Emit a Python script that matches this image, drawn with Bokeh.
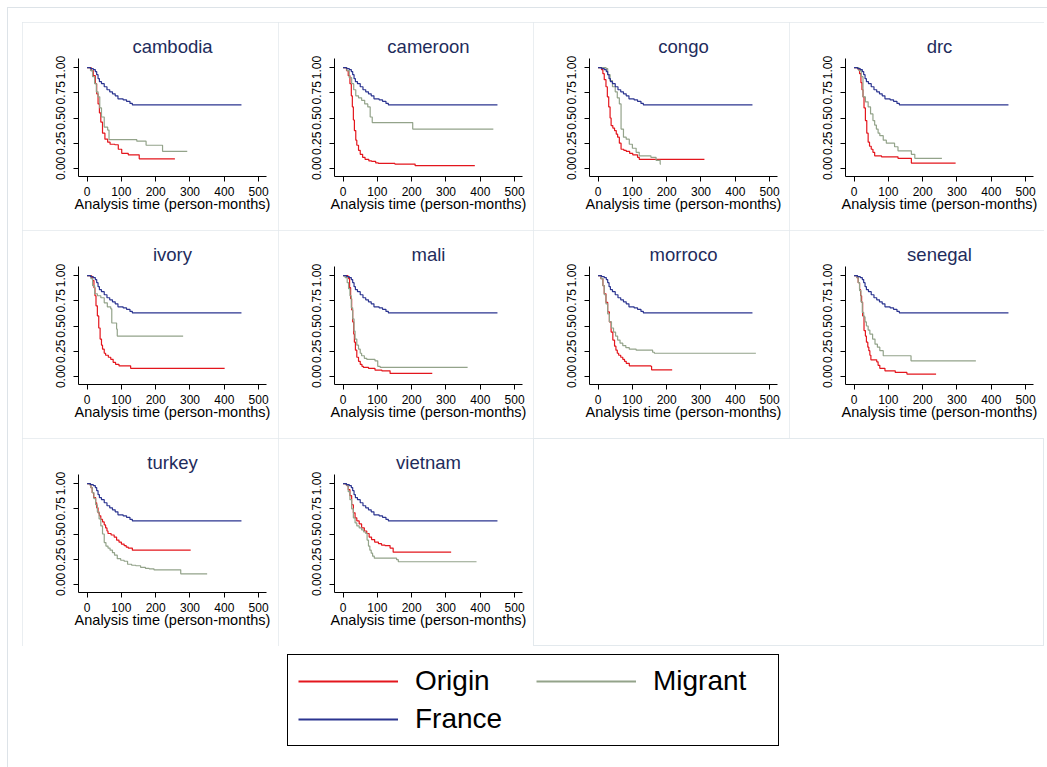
from bokeh.plotting import figure
from bokeh.layouts import row, column
from bokeh.models import (Range1d, FixedTicker, PrintfTickFormatter, Div, Legend, LegendItem)
from bokeh.embed import file_html
from bokeh.resources import INLINE

# ---------------- data (Kaplan-Meier step points) ----------------
countries = ["cambodia", "cameroon", "congo", "drc", "ivory", "mali",
             "morroco", "senegal", "turkey", "vietnam"]
series_labels = ["Origin", "Migrant", "France"]
x_ticks = [0, 100, 200, 300, 400, 500]
y_ticks = [0.0, 0.25, 0.5, 0.75, 1.0]
x_title = "Analysis time (person-months)"

france_t = [0, 10, 18, 24, 28, 32, 36, 42, 50, 58, 66, 74, 82, 90, 105, 115, 125, 132, 450]
france_s = [1.0, 0.99, 0.98, 0.96, 0.93, 0.89, 0.86, 0.84, 0.81, 0.78, 0.76, 0.74, 0.72, 0.69, 0.68, 0.665, 0.645, 0.63, 0.63]

cambodia_origin_t = [0, 12, 18, 24, 28, 32, 36, 40, 45, 52, 60, 67, 81, 91, 101, 120, 152, 256]
cambodia_origin_s = [1.0, 0.97, 0.92, 0.84, 0.74, 0.64, 0.55, 0.46, 0.35, 0.29, 0.26, 0.24, 0.235, 0.19, 0.15, 0.135, 0.095, 0.095]
cambodia_migrant_t = [0, 10, 16, 22, 27, 32, 37, 42, 50, 60, 64, 145, 172, 220, 292]
cambodia_migrant_s = [1.0, 0.97, 0.91, 0.84, 0.76, 0.71, 0.60, 0.51, 0.41, 0.38, 0.285, 0.27, 0.23, 0.17, 0.17]

cameroon_origin_t = [0, 10, 15, 20, 24, 27, 30, 33, 37, 40, 45, 50, 57, 64, 75, 83, 95, 103, 151, 210, 384]
cameroon_origin_s = [1.0, 0.97, 0.92, 0.84, 0.72, 0.61, 0.48, 0.375, 0.28, 0.23, 0.18, 0.14, 0.11, 0.09, 0.075, 0.07, 0.055, 0.05, 0.043, 0.027, 0.027]
cameroon_migrant_t = [0, 11, 18, 25, 31, 37, 45, 54, 63, 72, 79, 85, 203, 438]
cameroon_migrant_s = [1.0, 0.97, 0.90, 0.84, 0.78, 0.72, 0.70, 0.675, 0.64, 0.61, 0.51, 0.455, 0.39, 0.39]

congo_origin_t = [0, 10, 14, 18, 23, 27, 31, 35, 38, 43, 48, 53, 57, 62, 67, 75, 82, 92, 101, 115, 120, 310]
congo_origin_s = [1.0, 0.98, 0.94, 0.88, 0.81, 0.71, 0.61, 0.50, 0.425, 0.40, 0.375, 0.34, 0.31, 0.25, 0.19, 0.18, 0.17, 0.15, 0.135, 0.11, 0.09, 0.09]
congo_migrant_t = [0, 23, 28, 35, 42, 50, 56, 62, 67, 74, 82, 91, 100, 111, 120, 154, 169, 181, 183]
congo_migrant_s = [1.0, 0.99, 0.93, 0.87, 0.81, 0.76, 0.70, 0.64, 0.39, 0.31, 0.29, 0.24, 0.20, 0.16, 0.125, 0.11, 0.08, 0.043, 0.043]

drc_origin_t = [0, 12, 16, 20, 23, 26, 29, 33, 37, 41, 45, 50, 55, 60, 80, 128, 167, 296]
drc_origin_s = [1.0, 0.98, 0.94, 0.85, 0.78, 0.71, 0.60, 0.475, 0.35, 0.26, 0.22, 0.19, 0.16, 0.125, 0.115, 0.10, 0.053, 0.053]
drc_migrant_t = [0, 14, 21, 26, 33, 41, 48, 55, 60, 65, 70, 75, 85, 94, 118, 128, 167, 177, 256]
drc_migrant_s = [1.0, 0.97, 0.91, 0.71, 0.66, 0.61, 0.54, 0.475, 0.43, 0.39, 0.35, 0.325, 0.28, 0.25, 0.215, 0.175, 0.14, 0.10, 0.10]

ivory_origin_t = [0, 13, 16, 20, 23, 26, 30, 34, 38, 42, 45, 50, 54, 62, 69, 76, 83, 93, 127, 401]
ivory_origin_s = [1.0, 0.98, 0.95, 0.88, 0.80, 0.70, 0.60, 0.48, 0.37, 0.31, 0.27, 0.23, 0.21, 0.19, 0.17, 0.14, 0.12, 0.105, 0.08, 0.08]
ivory_migrant_t = [0, 11, 16, 22, 30, 40, 50, 59, 69, 72, 86, 88, 280]
ivory_migrant_s = [1.0, 0.97, 0.90, 0.82, 0.80, 0.78, 0.73, 0.69, 0.67, 0.53, 0.47, 0.40, 0.40]

mali_origin_t = [0, 14, 16, 19, 22, 25, 28, 31, 33, 36, 40, 45, 50, 55, 59, 74, 93, 113, 137, 260]
mali_origin_s = [1.0, 0.99, 0.97, 0.88, 0.77, 0.66, 0.54, 0.42, 0.34, 0.26, 0.19, 0.15, 0.12, 0.10, 0.09, 0.08, 0.063, 0.056, 0.03, 0.03]
mali_migrant_t = [0, 6, 12, 16, 20, 24, 28, 32, 35, 40, 45, 50, 54, 62, 69, 93, 101, 108, 363]
mali_migrant_s = [1.0, 0.98, 0.93, 0.87, 0.80, 0.68, 0.57, 0.45, 0.37, 0.31, 0.27, 0.23, 0.205, 0.18, 0.17, 0.155, 0.10, 0.09, 0.09]

morroco_origin_t = [0, 8, 14, 18, 23, 28, 33, 38, 43, 48, 52, 56, 60, 66, 72, 77, 82, 91, 154, 156, 216]
morroco_origin_s = [1.0, 0.97, 0.90, 0.82, 0.735, 0.64, 0.54, 0.44, 0.36, 0.30, 0.26, 0.23, 0.21, 0.19, 0.17, 0.15, 0.13, 0.105, 0.10, 0.066, 0.066]
morroco_migrant_t = [0, 8, 14, 18, 23, 28, 33, 39, 45, 51, 57, 64, 72, 81, 91, 111, 159, 164, 460]
morroco_migrant_s = [1.0, 0.97, 0.90, 0.81, 0.72, 0.62, 0.54, 0.48, 0.44, 0.40, 0.36, 0.33, 0.305, 0.285, 0.27, 0.26, 0.24, 0.23, 0.23]

senegal_origin_t = [0, 8, 12, 16, 19, 22, 25, 29, 33, 36, 40, 43, 46, 49, 66, 70, 75, 90, 120, 154, 239]
senegal_origin_s = [1.0, 0.98, 0.93, 0.86, 0.80, 0.735, 0.60, 0.455, 0.40, 0.34, 0.29, 0.255, 0.21, 0.165, 0.145, 0.11, 0.08, 0.056, 0.04, 0.023, 0.023]
senegal_migrant_t = [0, 8, 12, 16, 20, 24, 28, 32, 36, 41, 46, 54, 61, 68, 75, 85, 166, 355]
senegal_migrant_s = [1.0, 0.98, 0.93, 0.85, 0.74, 0.635, 0.59, 0.54, 0.50, 0.46, 0.42, 0.37, 0.32, 0.29, 0.255, 0.205, 0.155, 0.155]

turkey_origin_t = [0, 7, 11, 15, 19, 25, 28, 32, 36, 40, 45, 50, 54, 58, 61, 70, 79, 86, 93, 100, 108, 114, 120, 132, 302]
turkey_origin_s = [1.0, 0.99, 0.96, 0.91, 0.86, 0.81, 0.76, 0.71, 0.68, 0.645, 0.62, 0.59, 0.56, 0.53, 0.505, 0.49, 0.47, 0.44, 0.42, 0.40, 0.385, 0.37, 0.36, 0.34, 0.34]
turkey_migrant_t = [0, 7, 11, 15, 20, 25, 30, 35, 40, 45, 50, 55, 61, 67, 74, 80, 88, 98, 108, 118, 130, 142, 156, 170, 181, 195, 273, 350]
turkey_migrant_s = [1.0, 0.99, 0.96, 0.91, 0.85, 0.79, 0.72, 0.65, 0.58, 0.50, 0.415, 0.38, 0.36, 0.34, 0.315, 0.29, 0.255, 0.24, 0.23, 0.20, 0.19, 0.185, 0.17, 0.16, 0.155, 0.145, 0.105, 0.105]

vietnam_origin_t = [0, 8, 11, 15, 20, 25, 30, 35, 40, 47, 54, 62, 69, 76, 83, 92, 103, 112, 122, 137, 146, 315]
vietnam_origin_s = [1.0, 0.99, 0.98, 0.94, 0.88, 0.79, 0.71, 0.66, 0.63, 0.60, 0.56, 0.53, 0.505, 0.47, 0.445, 0.42, 0.405, 0.39, 0.385, 0.36, 0.32, 0.32]
vietnam_migrant_t = [0, 8, 11, 15, 20, 25, 30, 35, 40, 47, 54, 60, 66, 70, 74, 78, 82, 86, 91, 156, 161, 389]
vietnam_migrant_s = [1.0, 0.99, 0.98, 0.92, 0.84, 0.75, 0.66, 0.61, 0.58, 0.56, 0.54, 0.52, 0.505, 0.44, 0.38, 0.34, 0.31, 0.28, 0.26, 0.245, 0.225, 0.225]

curves = {
    "cambodia": (cambodia_origin_t, cambodia_origin_s, cambodia_migrant_t, cambodia_migrant_s),
    "cameroon": (cameroon_origin_t, cameroon_origin_s, cameroon_migrant_t, cameroon_migrant_s),
    "congo": (congo_origin_t, congo_origin_s, congo_migrant_t, congo_migrant_s),
    "drc": (drc_origin_t, drc_origin_s, drc_migrant_t, drc_migrant_s),
    "ivory": (ivory_origin_t, ivory_origin_s, ivory_migrant_t, ivory_migrant_s),
    "mali": (mali_origin_t, mali_origin_s, mali_migrant_t, mali_migrant_s),
    "morroco": (morroco_origin_t, morroco_origin_s, morroco_migrant_t, morroco_migrant_s),
    "senegal": (senegal_origin_t, senegal_origin_s, senegal_migrant_t, senegal_migrant_s),
    "turkey": (turkey_origin_t, turkey_origin_s, turkey_migrant_t, turkey_migrant_s),
    "vietnam": (vietnam_origin_t, vietnam_origin_s, vietnam_migrant_t, vietnam_migrant_s),
}

# ---------------- styling ----------------
FONT = "Liberation Sans"
C_ORIGIN = "#e3161d"
C_MIGRANT = "#93a38a"
C_FRANCE = "#2b3490"
C_TITLE = "#1e2c5c"
C_CELL = "#e3e9ed"
CELL_H = 208
CELL_W = [256, 255, 256, 255]
FRAME_W = 188


def panel(name, w):
    ot, os_, mt, ms = curves[name]
    p = figure(width=w, height=CELL_H, title=name,
               x_range=Range1d(-25, 523), y_range=Range1d(-0.08, 1.09),
               output_backend="svg", toolbar_location=None,
               min_border_left=56, min_border_right=w - 56 - FRAME_W,
               min_border_top=36, min_border_bottom=54,
               styles={"outline": "1px solid " + C_CELL, "outline-offset": "-1px"})
    p.title.align = "center"
    p.title.text_font = FONT
    p.title.text_font_size = "18.5px"
    p.title.text_font_style = "normal"
    p.title.text_color = C_TITLE
    p.title.standoff = 3
    p.outline_line_color = None
    p.grid.visible = False
    p.step(ot, os_, mode="after", line_color=C_ORIGIN, line_width=1.2)
    p.step(mt, ms, mode="after", line_color=C_MIGRANT, line_width=1.2)
    p.step(france_t, france_s, mode="after", line_color=C_FRANCE, line_width=1.2)

    p.xaxis.ticker = FixedTicker(ticks=x_ticks)
    p.yaxis.ticker = FixedTicker(ticks=y_ticks)
    p.yaxis.formatter = PrintfTickFormatter(format="%.2f")
    p.yaxis.major_label_orientation = "vertical"
    for ax in (p.xaxis, p.yaxis):
        ax.minor_tick_line_color = None
        ax.major_tick_out = 5
        ax.major_tick_in = 0
        ax.axis_line_color = "black"
        ax.major_tick_line_color = "black"
        ax.major_label_text_font = FONT
        ax.major_label_text_font_size = "12px"
        ax.major_label_text_color = "black"
    p.xaxis.major_label_standoff = 5
    p.yaxis.major_label_standoff = 8
    p.xaxis.axis_label = x_title
    p.xaxis.axis_label_text_font = FONT
    p.xaxis.axis_label_text_font_size = "14.5px"
    p.xaxis.axis_label_text_font_style = "normal"
    p.xaxis.axis_label_text_color = "black"
    p.xaxis.axis_label_standoff = -3
    return p


figs = [panel(c, CELL_W[i % 4]) for i, c in enumerate(countries)]
empty = Div(text="", width=CELL_W[2] + CELL_W[3], height=CELL_H, margin=0,
            styles={"outline": "1px solid " + C_CELL, "outline-offset": "-1px"})

# ---------------- legend ----------------
lg = figure(width=sum(CELL_W), height=108, output_backend="svg", toolbar_location=None,
            title=None, x_range=Range1d(0, 1), y_range=Range1d(0, 1),
            x_axis_type=None, y_axis_type=None, min_border=0)
lg.outline_line_color = None
lg.grid.visible = False
r_o = lg.line([-5, -4], [-5, -4], line_color=C_ORIGIN, line_width=2)
r_m = lg.line([-5, -4], [-5, -4], line_color=C_MIGRANT, line_width=2)
r_f = lg.line([-5, -4], [-5, -4], line_color=C_FRANCE, line_width=2)
legend = Legend(items=[LegendItem(label=series_labels[0], renderers=[r_o]),
                       LegendItem(label=series_labels[1], renderers=[r_m]),
                       LegendItem(label=series_labels[2], renderers=[r_f])],
                location="center", orientation="horizontal", ncols=2,
                glyph_width=100, glyph_height=20, label_standoff=17,
                label_width=115, spacing=6, padding=10,
                label_text_font=FONT, label_text_font_size="28px", label_text_color="black",
                border_line_color="black", border_line_width=1, border_line_alpha=1.0,
                background_fill_color="white", background_fill_alpha=1.0)
lg.add_layout(legend, "center")

inner = column(row(*figs[0:4]), row(*figs[4:8]), row(figs[8], figs[9], empty), lg,
               margin=(14, 0, 0, 14))
outer = column(inner, margin=(7, 0, 0, 7),
               styles={"border-left": "1px solid #dde3e8", "border-top": "1px solid #dde3e8",
                       "min-height": "760px", "min-width": "1040px"})

open("out.html", "w").write(file_html(outer, INLINE))
